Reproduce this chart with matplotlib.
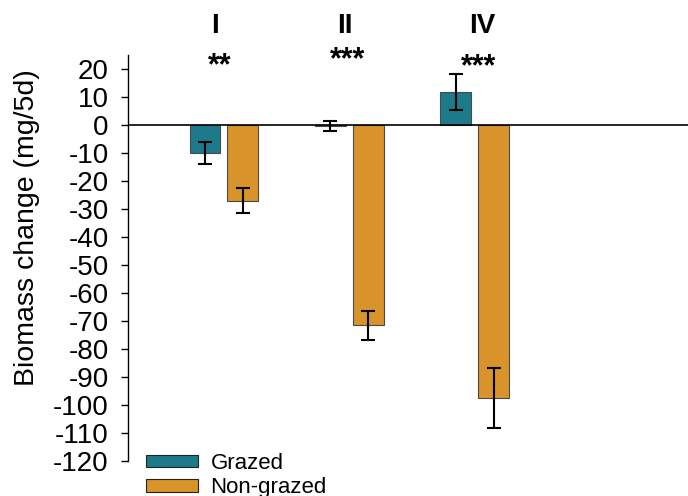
import matplotlib
matplotlib.use("Agg")
import matplotlib.pyplot as plt
import numpy as np

plt.rcParams['font.family'] = ['Liberation Sans', 'DejaVu Sans']

groups = ["I", "II", "IV"]
grazed = [-10.0, -0.5, 11.8]
grazed_err = [4.0, 1.8, 6.4]
nongrazed = [-27.0, -71.5, -97.6]
nongrazed_err = [4.5, 5.2, 10.7]
signif = ["**", "***", "***"]
yticks = list(range(-120, 21, 10))

teal = "#1d7a8a"
orange = "#d8932b"

fig = plt.figure(figsize=(6.88, 4.96), dpi=100)
ax = fig.add_axes([128/688, 35/496, (688-128)/688, 406/496])

x = np.arange(len(groups))
w = 0.247
off = 0.151
ekw = dict(ecolor="black", elinewidth=1.5, capsize=5, capthick=1.5)
ax.bar(x - off, grazed, w, color=teal, edgecolor="#4a4a4a", linewidth=0.8,
       yerr=grazed_err, error_kw=ekw, label="Grazed", zorder=2)
ax.bar(x + off, nongrazed, w, color=orange, edgecolor="#4a4a4a", linewidth=0.8,
       yerr=nongrazed_err, error_kw=ekw, label="Non-grazed", zorder=2)

ax.axhline(0, color="black", linewidth=1.2, zorder=3)
ax.set_xlim(-0.765, 3.70)
ax.set_ylim(-120, 25)
ax.set_yticks(yticks)
ax.set_yticklabels([str(t) for t in yticks], fontsize=20)
ax.tick_params(axis='y', direction='out', length=5, width=1, pad=9)
ax.set_xticks([])
for s in ["top", "right", "bottom"]:
    ax.spines[s].set_visible(False)
ax.spines["left"].set_linewidth(1)
ax.set_ylabel("Biomass change (mg/5d)", fontsize=20.5)
ax.yaxis.set_label_coords(-88/560, 0.574)

label_x = [-0.07, -0.035, 0.06]
star_x = [-0.03, -0.015, 0.03]
star_y = [21.0, 23.0, 20.5]
for i, g in enumerate(groups):
    ax.text(x[i] + label_x[i], 35.5, g, ha="center", va="center",
            fontsize=20, fontweight="bold", clip_on=False)
    ax.text(x[i] + star_x[i], star_y[i], signif[i], ha="center", va="center",
            fontsize=22, fontweight="bold", clip_on=False)

leg = ax.legend(loc="upper left", bbox_to_anchor=(146/688, 1 - 453/496),
                bbox_transform=fig.transFigure, frameon=False, fontsize=16,
                handlelength=2.35, handleheight=0.5, labelspacing=0.15,
                handletextpad=0.55, borderaxespad=0, borderpad=0)
for h in leg.legend_handles:
    h.set_edgecolor("#222222")

fig.savefig("out.png", dpi=100)
